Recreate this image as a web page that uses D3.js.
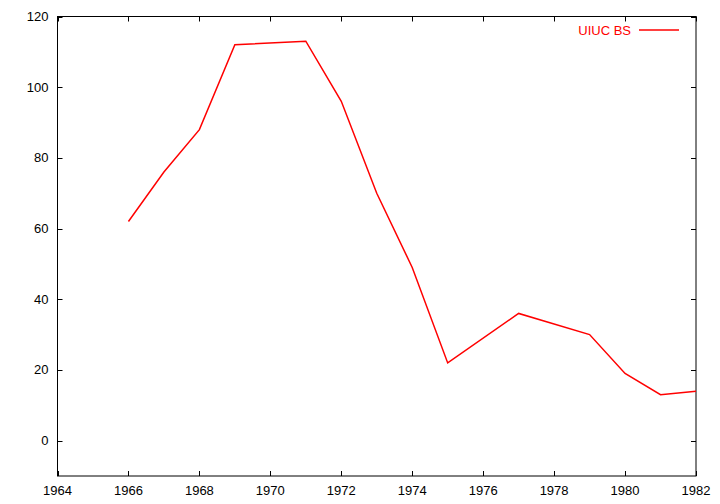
<!DOCTYPE html>
<html><head><meta charset="utf-8">
<script src="https://cdn.jsdelivr.net/npm/d3@7"></script>
<style>body{margin:0;background:#fff}svg{display:block}text{font-family:"Liberation Sans",Arial,sans-serif;font-size:13px}</style>
</head><body>
<svg id="c" width="720" height="504"></svg>
<script>
const years = [1966,1967,1968,1969,1971,1972,1973,1974,1975,1977,1979,1980,1981,1982];
const values = [62,76,88,112,113,96,70,49,22,36,30,19,13,14];
const xTicks = [1964,1966,1968,1970,1972,1974,1976,1978,1980,1982];
const yTicks = [0,20,40,60,80,100,120];
const seriesName = "UIUC BS";

const L=57.5,R=696,T=16.5,B=476;
const svg=d3.select("#c");
const x=d3.scaleLinear().domain([1964,1982]).range([L,R]);
const y=d3.scaleLinear().domain([-10,120]).range([B,T]);
const tl=5;
const g=svg.append("g").attr("stroke","#000").attr("stroke-width",1);
svg.append("rect").attr("x",L).attr("y",T).attr("width",R-L).attr("height",B-T).attr("fill","none").attr("stroke","#000");
xTicks.forEach(v=>{const px=Math.round(x(v))+0.5;
  g.append("line").attr("x1",px).attr("x2",px).attr("y1",B).attr("y2",B-tl);
  g.append("line").attr("x1",px).attr("x2",px).attr("y1",T).attr("y2",T+tl);
  svg.append("text").attr("x",x(v)).attr("y",B+18.5).attr("text-anchor","middle").text(v);
});
yTicks.forEach(v=>{const py=Math.round(y(v))+0.5;
  g.append("line").attr("x1",L).attr("x2",L+tl).attr("y1",py).attr("y2",py);
  g.append("line").attr("x1",R).attr("x2",R-tl).attr("y1",py).attr("y2",py);
  svg.append("text").attr("x",L-9).attr("y",y(v)+4.5).attr("text-anchor","end").text(v);
});
const data=years.map((d,i)=>[d,values[i]]);
svg.append("path").datum(data).attr("fill","none").attr("stroke","#ff0000").attr("stroke-width",1.5)
  .attr("d",d3.line().x(d=>x(d[0])).y(d=>y(d[1])));
svg.append("text").attr("x",631).attr("y",35).attr("text-anchor","end").attr("fill","#ff0000").text(seriesName);
svg.append("line").attr("x1",639).attr("x2",679).attr("y1",30).attr("y2",30).attr("stroke","#ff0000").attr("stroke-width",1.5);
</script>
</body></html>
